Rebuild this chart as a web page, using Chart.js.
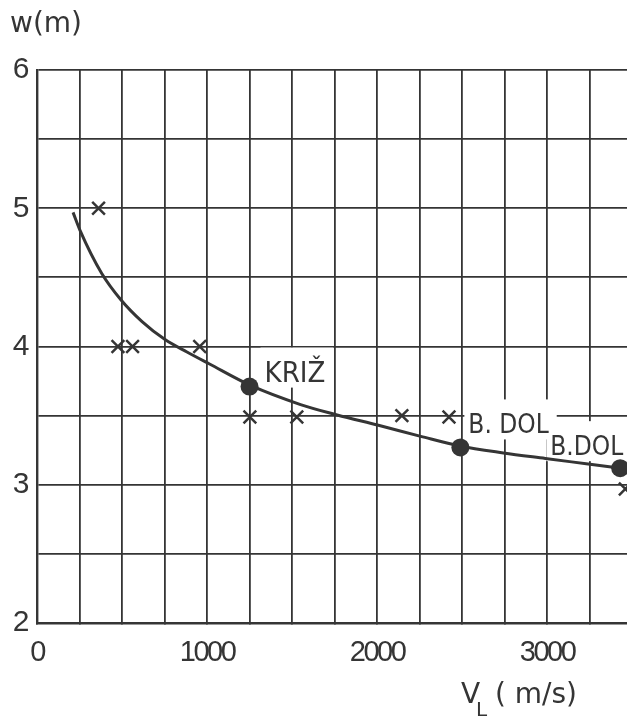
<!DOCTYPE html>
<html>
<head>
<meta charset="utf-8">
<script src="https://cdn.jsdelivr.net/npm/chart.js@4/dist/chart.umd.min.js"></script>
<style>
  html, body { margin: 0; padding: 0; background: #fff; }
  #wrap { width: 627px; height: 716px; position: relative; }
</style>
</head>
<body>
<div id="wrap"><canvas id="chart"></canvas></div>
<script>
// data
const curveX = [212, 253, 380, 492, 618, 753, 882, 1012, 1253, 1550, 1765, 2008, 2257, 2488, 2743, 2990, 3241, 3460];
const curveY = [4.97, 4.84, 4.53, 4.34, 4.18, 4.05, 3.96, 3.875, 3.72, 3.58, 3.505, 3.43, 3.35, 3.28, 3.23, 3.19, 3.15, 3.115];

const crossX = [362, 476, 562, 957, 1252, 1528, 2146, 2423, 3460];
const crossY = [5.0, 4.0, 4.0, 4.0, 3.49, 3.49, 3.5, 3.49, 2.97];

const siteNames = ['KRIŽ', 'B. DOL', 'B.DOL'];
const siteX = [1250, 2490, 3430];
const siteY = [3.71, 3.27, 3.12];

const xGrid = [0, 250, 500, 750, 1000, 1250, 1500, 1750, 2000, 2250, 2500, 2750, 3000, 3250];
const xTicksShown = [0, 1000, 2000, 3000];
const yTicksShown = [2, 3, 4, 5, 6];

const ink = '#353535';
const zip = (xs, ys) => xs.map((x, i) => ({ x: x, y: ys[i] }));

// tighter digits on the axes, like the lettering of the original
const tightTicks = {
  id: 'tightTicks',
  beforeDraw(chart) { chart.ctx.letterSpacing = '-2.5px'; },
  afterDraw(chart) { chart.ctx.letterSpacing = '0px'; }
};

// names next to the big dots, with a white patch behind
const siteLabels = {
  id: 'siteLabels',
  beforeDatasetsDraw(chart) {
    const ctx = chart.ctx;
    const xs = chart.scales.x, ys = chart.scales.y;
    // dx, dy, align, font size
    const offs = [[15, -5, 'left', 29], [8, -14, 'left', 26], [3, -13, 'right', 26]];
    ctx.save();
    ctx.letterSpacing = '0px';
    ctx.textBaseline = 'alphabetic';
    ctx.textAlign = 'left';
    const spots = siteNames.map((name, i) => {
      ctx.font = offs[i][3] + 'px "DejaVu Sans Condensed", "DejaVu Sans", sans-serif';
      const px = xs.getPixelForValue(siteX[i]) + offs[i][0];
      const py = ys.getPixelForValue(siteY[i]) + offs[i][1];
      const w = ctx.measureText(name).width;
      return { name, font: ctx.font, left: offs[i][2] === 'left' ? px : px - w, py, w };
    });
    ctx.fillStyle = '#fff';
    spots.forEach(s => ctx.fillRect(s.left - 4, s.py - 34, s.w + 12, 40));
    ctx.fillStyle = ink;
    spots.forEach(s => { ctx.font = s.font; ctx.fillText(s.name, s.left, s.py); });
    ctx.restore();
  }
};

// axis names
const axisNames = {
  id: 'axisNames',
  afterDraw(chart) {
    const ctx = chart.ctx;
    ctx.save();
    ctx.letterSpacing = '0px';
    ctx.fillStyle = ink;
    ctx.textBaseline = 'alphabetic';
    ctx.textAlign = 'left';
    ctx.font = '28px "DejaVu Sans", sans-serif';
    ctx.fillText('w(m)', 10, 32);
    ctx.fillText('V', 461, 703);
    ctx.fillText('( m/s)', 495, 703);
    ctx.font = '20px "DejaVu Sans", sans-serif';
    ctx.fillText('L', 476, 716);
    ctx.restore();
  }
};

new Chart(document.getElementById('chart').getContext('2d'), {
  type: 'scatter',
  data: {
    datasets: [
      {
        data: zip(curveX, curveY),
        showLine: true,
        borderColor: ink,
        borderWidth: 3,
        pointRadius: 0,
        cubicInterpolationMode: 'monotone',
        order: 3
      },
      {
        data: zip(crossX, crossY),
        pointStyle: 'crossRot',
        pointRadius: 9,
        borderColor: ink,
        borderWidth: 2.5,
        order: 2
      },
      {
        data: zip(siteX, siteY),
        pointStyle: 'circle',
        pointRadius: 9,
        backgroundColor: ink,
        borderColor: ink,
        borderWidth: 0,
        order: 1
      }
    ]
  },
  options: {
    responsive: true,
    maintainAspectRatio: false,
    animation: false,
    layout: { autoPadding: false, padding: { top: 70, right: 0, bottom: 0, left: 0 } },
    plugins: {
      legend: { display: false },
      tooltip: { enabled: false }
    },
    scales: {
      x: {
        type: 'linear',
        min: 0,
        max: 3470,
        afterBuildTicks: s => { s.ticks = xGrid.map(v => ({ value: v })); },
        afterFit: s => { s.height = 93; s.paddingLeft = 0; s.paddingRight = 0; },
        grid: { color: ink, lineWidth: 1.8, tickLength: 0 },
        border: { color: ink, width: 2.4 },
        ticks: {
          autoSkip: false,
          maxRotation: 0,
          padding: 13,
          color: ink,
          font: { family: '"Liberation Sans", sans-serif', size: 29 },
          callback: v => xTicksShown.includes(v) ? String(v) : ''
        }
      },
      y: {
        type: 'linear',
        min: 2,
        max: 6,
        afterFit: s => { s.width = 37; },
        grid: { color: ink, lineWidth: 1.8, tickLength: 0 },
        border: { color: ink, width: 2.4 },
        ticks: {
          stepSize: 0.5,
          autoSkip: false,
          padding: 10,
          color: ink,
          font: { family: '"Liberation Sans", sans-serif', size: 30 },
          callback: v => yTicksShown.includes(v) ? String(v) : ''
        }
      }
    }
  },
  plugins: [tightTicks, siteLabels, axisNames]
});
</script>
</body>
</html>
